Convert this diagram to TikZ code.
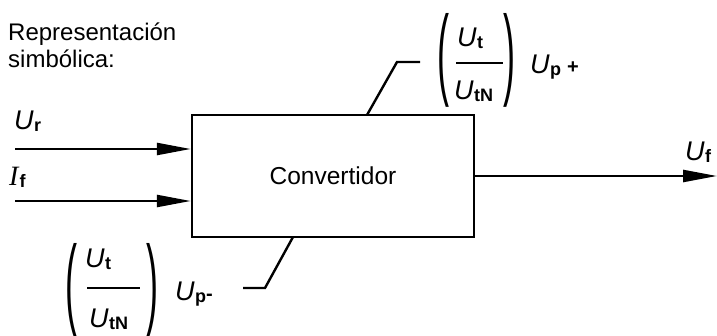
\documentclass[tikz,border=0pt]{standalone}
\usepackage{fontspec}
\setmainfont{Liberation Sans}
\newfontfamily\serifit{Liberation Serif}
\usetikzlibrary{arrows.meta,calc}
\newcommand{\symU}[1]{{\fontsize{27}{27}\selectfont\itshape U}\kern0.5pt\raisebox{-1.5pt}{\fontsize{18}{18}\selectfont\bfseries #1}}
\newcommand{\bigpar}[1]{\fontsize{24}{24}\selectfont\scalebox{1.5}[4.2]{#1}}
\tikzset{
  ln/.style={line width=2.4pt},
  arr/.style={ln,-{Triangle[length=34pt,width=12pt]}},
  lbl/.style={inner sep=0pt,anchor=base west},
  par/.style={inner sep=0pt,anchor=center},
}
\begin{document}
\begin{tikzpicture}[x=1pt,y=-1pt]
\useasboundingbox (0,0) rectangle (717,336);
% caption
\node[inner sep=0pt,anchor=north west,align=left,font=\fontsize{24}{27}\selectfont] (cap) at (8,23) {Representación\\simbólica:};
% box
\node[draw,ln,minimum width=282pt,minimum height=122pt,font=\fontsize{24.5}{24.5}\selectfont] (conv) at (333,176) {Convertidor};
% inputs
\coordinate (ur) at (15,149);
\coordinate (if) at (15,201);
\coordinate (uf) at (717,176);
\draw[arr] (ur) -- (ur -| conv.west);
\draw[arr] (if) -- (if -| conv.west);
\draw[arr] (conv.east) -- (uf);
\node[lbl] (lur) at (14,130) {\symU{r}};
\node[lbl] (lif) at (9,186) {{\fontsize{28}{28}\selectfont\serifit\itshape I}\kern1pt\raisebox{-1.5pt}{\fontsize{18}{18}\selectfont\bfseries f}};
\node[lbl] (luf) at (685,161) {\symU{f}};
% top label
\node[par] (tp1) at (443,60) {\bigpar{(}};
\node[par] (tp2) at (509,60) {\bigpar{)}};
\node[lbl] (tnum) at (457,47) {\symU{t}};
\node[lbl] (tden) at (454,100) {\symU{tN}};
\draw[ln] (456,63) -- (503,63);
\node[lbl] (tup) at (530,74) {\symU{p}\kern6pt{\fontsize{20}{20}\selectfont\bfseries +}};
\coordinate (tk) at (367,115);
\coordinate (te) at (420,62);
\draw[ln] (tk) -- (397,62) -- (te);
% bottom label
\node[par] (bp1) at (71,290) {\bigpar{(}};
\node[par] (bp2) at (152,290) {\bigpar{)}};
\node[lbl] (bnum) at (85,268) {\symU{t}};
\node[lbl] (bden) at (89,328) {\symU{tN}};
\draw[ln] (87,288) -- (140,288);
\node[lbl] (bup) at (175,301) {\symU{p}{\fontsize{20}{20}\selectfont\bfseries -}};
\coordinate (bk) at (293,237);
\coordinate (be) at (243,288);
\draw[ln] (bk) -- (265,288) -- (be);
\end{tikzpicture}
\end{document}
